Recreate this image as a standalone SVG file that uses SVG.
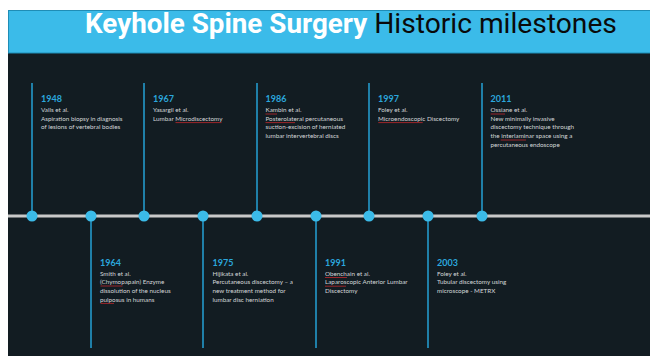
<svg xmlns="http://www.w3.org/2000/svg" width="650" height="356" viewBox="0 0 650 356">
<style>
.bg{fill:#121c22}
.hdr{fill:#3bbbe9;stroke:#1f8db6;stroke-width:1}
.t1{font-family:Roboto,"Liberation Sans",sans-serif;font-size:27.8px;font-weight:700;fill:#ffffff}
.t2{font-family:Roboto,"Liberation Sans",sans-serif;font-size:28.2px;font-weight:400;fill:#0a0a0a}
.yr{font-family:Lato,"Open Sans","Liberation Sans",sans-serif;font-size:9px;font-weight:700;fill:#2ba7dd}
.tx{font-family:Lato,"Open Sans","Liberation Sans",sans-serif;font-size:6.3px;fill:#d2d6d8}
.stem{stroke:#1f7fa8;stroke-width:2;fill:none}
.axis{stroke:#c9c9c9;stroke-width:3;fill:none}
.dot{fill:#3bbbe9}
.sp{stroke:#c0282d;stroke-width:0.8;fill:none}
</style>
<rect x="0" y="0" width="650" height="356" fill="#ffffff"/>
<rect class="bg" x="8" y="53" width="642" height="303"/>
<rect class="hdr" x="8.5" y="10.5" width="642" height="42.5"/>
<text x="85" y="33"><tspan class="t1">Keyhole Spine Surgery</tspan><tspan class="t2" dx="7">Historic milestones</tspan></text>

<g id="connectors">
<line class="axis" x1="8" y1="216" x2="650" y2="216"/>
<line class="stem" x1="32" y1="83" x2="32" y2="216"/>
<line class="stem" x1="144" y1="83" x2="144" y2="216"/>
<line class="stem" x1="257" y1="83" x2="257" y2="216"/>
<line class="stem" x1="369" y1="83" x2="369" y2="216"/>
<line class="stem" x1="482" y1="83" x2="482" y2="216"/>
<line class="stem" x1="91" y1="216" x2="91" y2="348"/>
<line class="stem" x1="203" y1="216" x2="203" y2="348"/>
<line class="stem" x1="316" y1="216" x2="316" y2="348"/>
<line class="stem" x1="428" y1="216" x2="428" y2="348"/>
</g>

<g id="m1948">
<circle class="dot" cx="32" cy="216" r="5.5"/>
<text class="yr" x="41" y="102">1948</text>
<text class="tx" x="41" y="112">Valls et al.</text>
<text class="tx" x="41" y="120.7">Aspiration biopsy in diagnosis</text>
<text class="tx" x="41" y="129.4">of lesions of vertebral bodies</text>
</g>

<g id="m1964">
<circle class="dot" cx="91" cy="216" r="5.5"/>
<text class="yr" x="100" y="265.7">1964</text>
<text class="tx" x="100" y="275.5">Smith et al.</text>
<text class="tx" x="100" y="284.2">(Chymopapain) Enzyme</text>
<text class="tx" x="100" y="292.9">dissolution of the nucleus</text>
<text class="tx" x="100" y="301.6">pulposus in humans</text>
<path class="sp" d="M100.5 286 H122.5 M100.5 303.4 H114"/>
</g>

<g id="m1967">
<circle class="dot" cx="144" cy="216" r="5.5"/>
<text class="yr" x="153" y="102">1967</text>
<text class="tx" x="153" y="112">Yasargil et al.</text>
<text class="tx" x="153" y="120.7">Lumbar Microdiscectomy</text>
<path class="sp" d="M175.5 122.6 H221.5"/>
</g>

<g id="m1975">
<circle class="dot" cx="203" cy="216" r="5.5"/>
<text class="yr" x="212.5" y="265.7">1975</text>
<text class="tx" x="212.5" y="275.5">Hijikata et al.</text>
<text class="tx" x="212.5" y="284.2">Percutaneous discectomy – a</text>
<text class="tx" x="212.5" y="292.9">new treatment method for</text>
<text class="tx" x="212.5" y="301.6">lumbar disc herniation</text>
</g>

<g id="m1986">
<circle class="dot" cx="257" cy="216" r="5.5"/>
<text class="yr" x="265.5" y="102">1986</text>
<text class="tx" x="265.5" y="112">Kambin et al.</text>
<text class="tx" x="265.5" y="120.7">Posterolateral percutaneous</text>
<text class="tx" x="265.5" y="129.4">suction-excision of herniated</text>
<text class="tx" x="265.5" y="138.1">lumbar intervertebral discs</text>
<path class="sp" d="M265.5 114 H277 M265.5 122.6 H295"/>
</g>

<g id="m1991">
<circle class="dot" cx="316" cy="216" r="5.5"/>
<text class="yr" x="325" y="265.7">1991</text>
<text class="tx" x="325" y="275.5">Obenchain et al.</text>
<text class="tx" x="325" y="284.2">Laparoscopic Anterior Lumbar</text>
<text class="tx" x="325" y="292.9">Discectomy</text>
<path class="sp" d="M325 277.5 H347 M325 286.2 H346"/>
</g>

<g id="m1997">
<circle class="dot" cx="369" cy="216" r="5.5"/>
<text class="yr" x="378" y="102">1997</text>
<text class="tx" x="378" y="112">Foley et al.</text>
<text class="tx" x="378" y="120.7">Microendoscopic Discectomy</text>
<path class="sp" d="M378.3 122.6 H422.7"/>
</g>

<g id="m2003">
<circle class="dot" cx="428" cy="216" r="5.5"/>
<text class="yr" x="437" y="265.7">2003</text>
<text class="tx" x="437" y="275.5">Foley et al.</text>
<text class="tx" x="437" y="284.2">Tubular discectomy using</text>
<text class="tx" x="437" y="292.9">microscope - METRX</text>
</g>

<g id="m2011">
<circle class="dot" cx="482" cy="216" r="5.5"/>
<text class="yr" x="490.5" y="102">2011</text>
<text class="tx" x="490.5" y="112">Ossiane et al.</text>
<text class="tx" x="490.5" y="120.7">New minimally invasive</text>
<text class="tx" x="490.5" y="129.4">discectomy technique through</text>
<text class="tx" x="490.5" y="138.1">the interlaminar space using a</text>
<text class="tx" x="490.5" y="146.8">percutaneous endoscope</text>
<path class="sp" d="M490.7 114 H505 M500.7 140 H526"/>
</g>
</svg>
